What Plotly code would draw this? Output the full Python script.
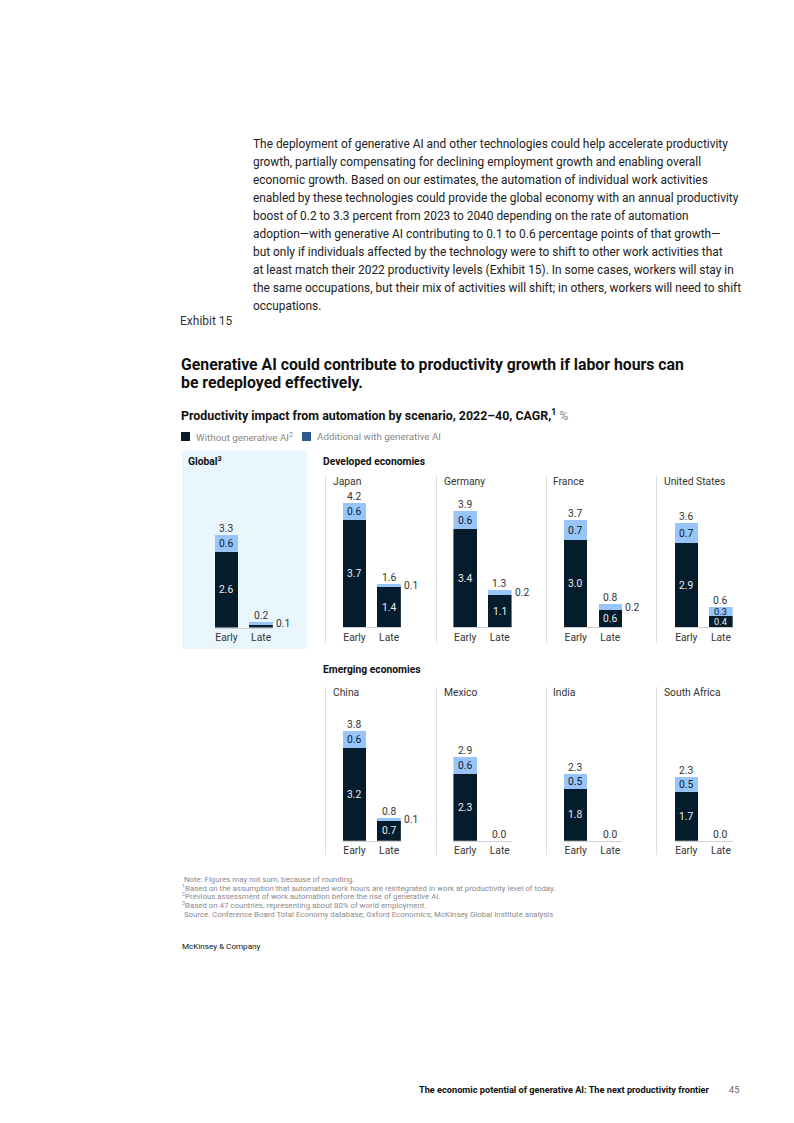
import plotly.graph_objects as go

# ---------------- data ----------------
panels = ["Global", "Japan", "Germany", "France", "United States",
          "China", "Mexico", "India", "South Africa"]
scenarios = ["Early", "Late"]
base_early = [2.6, 3.7, 3.4, 3.0, 2.9, 3.2, 2.3, 1.8, 1.7]
add_early = [0.6, 0.6, 0.6, 0.7, 0.7, 0.6, 0.6, 0.5, 0.5]
total_early = [3.3, 4.2, 3.9, 3.7, 3.6, 3.8, 2.9, 2.3, 2.3]
base_late = [0.1, 1.4, 1.1, 0.6, 0.4, 0.7, 0.0, 0.0, 0.0]
add_late = [0.1, 0.1, 0.2, 0.2, 0.3, 0.1, 0.0, 0.0, 0.0]
total_late = [0.2, 1.6, 1.3, 0.8, 0.6, 0.8, 0.0, 0.0, 0.0]

series_names = ["Without generative AI<sup>2</sup>", "Additional with generative AI"]

paragraph = [
    "The deployment of generative AI and other technologies could help accelerate productivity",
    "growth, partially compensating for declining employment growth and enabling overall",
    "economic growth. Based on our estimates, the automation of individual work activities",
    "enabled by these technologies could provide the global economy with an annual productivity",
    "boost of 0.2 to 3.3 percent from 2023 to 2040 depending on the rate of automation",
    "adoption\u2014with generative AI contributing to 0.1 to 0.6 percentage points of that growth\u2014",
    "but only if individuals affected by the technology were to shift to other work activities that",
    "at least match their 2022 productivity levels (Exhibit 15). In some cases, workers will stay in",
    "the same occupations, but their mix of activities will shift; in others, workers will need to shift",
    "occupations.",
]
footnotes = [
    " Note: Figures may not sum, because of rounding.",
    "<sup>1</sup>Based on the assumption that automated work hours are reintegrated in work at productivity level of today.",
    "<sup>2</sup>Previous assessment of work automation before the rise of generative AI.",
    "<sup>3</sup>Based on 47 countries, representing about 80% of world employment.",
    " Source: Conference Board Total Economy database; Oxford Economics; McKinsey Global Institute analysis",
]

# ---------------- styling ----------------
PAGE_W, PAGE_H = 794, 1123
OFF = 8                      # default page margin around the figure
W, H = PAGE_W - 2 * OFF, PAGE_H - 2 * OFF
FONT = "Roboto"
DARK = "#051c2c"
LIGHT = "#99c4f8"
LEG_BLUE = "#2f5a8e"
K = 29.0          # px per unit
R = 4.6           # y range
SP = 34.6         # px between bar centres


def px(x):
    return (x - OFF) / W


def py(y):
    return 1 - (y - OFF) / H


early_centres = [226.5, 354.5, 465.2, 575.7, 686.3, 354.5, 465.2, 575.7, 686.3]
baselines = [627.5, 627.3, 627.3, 627.3, 627.3, 840.8, 840.8, 840.8, 840.8]

fig = go.Figure()
layout = dict(width=W, height=H, margin=dict(l=0, r=0, t=0, b=0),
              paper_bgcolor="white", plot_bgcolor="rgba(0,0,0,0)",
              barmode="stack", bargap=0.32, showlegend=False,
              font=dict(family=FONT, color="#333"))
annotations = []
shapes = []

for i, name in enumerate(panels):
    n = "" if i == 0 else str(i + 1)
    xa, ya = "x" + n, "y" + n
    c = early_centres[i]
    left = c - 0.34 * SP
    right = c + SP + 0.34 * SP
    b = baselines[i]
    top = b - R * K
    layout["xaxis" + n] = dict(domain=[px(left), px(right)], range=[-0.34, 1.34],
                               tickvals=[0, 1], ticktext=scenarios, showgrid=False,
                               zeroline=False, showline=True, linecolor="#d0d0d0",
                               linewidth=1, ticks="", fixedrange=True,
                               tickfont=dict(family=FONT, size=10.3, color="#333"),
                               anchor=ya)
    layout["yaxis" + n] = dict(domain=[py(b), py(top)], range=[0, R], visible=False,
                               fixedrange=True, anchor=xa)
    bases = [base_early[i], base_late[i]]
    adds = [add_early[i], add_late[i]]
    tots = [total_early[i], total_late[i]]
    fig.add_trace(go.Bar(x=[0, 1], y=bases, marker=dict(color=DARK, line=dict(width=0)),
                         width=0.68, xaxis=xa, yaxis=ya, name=series_names[0],
                         hoverinfo="skip"))
    fig.add_trace(go.Bar(x=[0, 1], y=adds, marker=dict(color=LIGHT, line=dict(width=0)),
                         width=0.68, xaxis=xa, yaxis=ya, name=series_names[1],
                         hoverinfo="skip"))
    for j in range(2):
        bv, av, tv = bases[j], adds[j], tots[j]
        # total label
        annotations.append(dict(x=j, y=bv + av, xref=xa, yref=ya, text=f"{tv:.1f}",
                                showarrow=False, yanchor="bottom", yshift=-2,
                                font=dict(family=FONT, size=10.3, color="#333")))
        if bv >= 0.3:
            annotations.append(dict(x=j, y=bv / 2, xref=xa, yref=ya, text=f"{bv:.1f}",
                                    showarrow=False, yanchor="middle",
                                    font=dict(family=FONT, size=10.3 if bv >= 0.5 else 9.3,
                                              color="#e8ecef")))
        if av >= 0.3:
            annotations.append(dict(x=j, y=bv + av / 2, xref=xa, yref=ya, text=f"{av:.1f}",
                                    showarrow=False, yanchor="middle",
                                    font=dict(family=FONT, size=10.3 if av >= 0.5 else 9.3,
                                              color=DARK)))
        elif av > 0:
            annotations.append(dict(x=1.34 if j == 1 else 0.34, y=bv + av / 2, xref=xa, yref=ya,
                                    text=f"{av:.1f}", showarrow=False, xanchor="left",
                                    yanchor="middle", xshift=1,
                                    font=dict(family=FONT, size=10.3, color="#333")))

# global background
shapes.append(dict(type="rect", xref="paper", yref="paper", x0=px(182), x1=px(307),
                   y0=py(649), y1=py(450.5), fillcolor="#eaf6fd", line=dict(width=0),
                   layer="below"))
# separators
for xs in [325.5, 436.5, 546.5, 656.5]:
    shapes.append(dict(type="line", xref="paper", yref="paper", x0=px(xs), x1=px(xs),
                       y0=py(643), y1=py(476), line=dict(color="#dedede", width=1)))
    shapes.append(dict(type="line", xref="paper", yref="paper", x0=px(xs), x1=px(xs),
                       y0=py(855), y1=py(687), line=dict(color="#dedede", width=1)))

# panel titles
for i, name in enumerate(panels):
    if i == 0:
        annotations.append(dict(x=px(186), y=py(461), xref="paper", yref="paper",
                                text="<b>Global<sup>3</sup></b>", showarrow=False,
                                xanchor="left", yanchor="middle",
                                font=dict(family=FONT, size=10.3, color="#111")))
    else:
        k = (i - 1) % 4
        yy = 481 if i <= 4 else 692
        annotations.append(dict(x=px([331, 441.5, 551, 662][k]), y=py(yy), xref="paper",
                                yref="paper", text=name, showarrow=False, xanchor="left",
                                yanchor="middle", font=dict(family=FONT, size=10.3, color="#333")))

annotations.append(dict(x=px(321), y=py(461), xref="paper", yref="paper",
                        text="<b>Developed economies</b>", showarrow=False, xanchor="left",
                        yanchor="middle", font=dict(family=FONT, size=10.3, color="#111")))
annotations.append(dict(x=px(321), y=py(669), xref="paper", yref="paper",
                        text="<b>Emerging economies</b>", showarrow=False, xanchor="left",
                        yanchor="middle", font=dict(family=FONT, size=10.3, color="#111")))

# paragraph
for k, line in enumerate(paragraph):
    annotations.append(dict(x=px(251), y=py(144 + 18 * k), xref="paper", yref="paper",
                            text=line, showarrow=False, xanchor="left", yanchor="middle",
                            font=dict(family=FONT, size=11.9, color="#222")))

annotations.append(dict(x=px(178), y=py(321), xref="paper", yref="paper", text="Exhibit 15",
                        showarrow=False, xanchor="left", yanchor="middle",
                        font=dict(family=FONT, size=12, color="#333")))
for k, line in enumerate(["Generative AI could contribute to productivity growth if labor hours can",
                          "be redeployed effectively."]):
    annotations.append(dict(x=px(179), y=py(364 + 18 * k), xref="paper", yref="paper",
                            text=f"<b>{line}</b>", showarrow=False, xanchor="left",
                            yanchor="middle", font=dict(family=FONT, size=15.8, color="#111")))
annotations.append(dict(x=px(179), y=py(415), xref="paper", yref="paper",
                        text="<b>Productivity impact from automation by scenario, 2022\u201340, CAGR,<sup>1</sup></b> <span style='color:#888'>%</span>",
                        showarrow=False, xanchor="left", yanchor="middle",
                        font=dict(family=FONT, size=12.4, color="#111")))

# legend
for xs, col, txt, tx in [(181, DARK, series_names[0], 194), (302, LEG_BLUE, series_names[1], 315)]:
    shapes.append(dict(type="rect", xref="paper", yref="paper", x0=px(xs), x1=px(xs + 9),
                       y0=py(441), y1=py(432), fillcolor=col, line=dict(width=0)))
    annotations.append(dict(x=px(tx), y=py(436.5), xref="paper", yref="paper", text=txt,
                            showarrow=False, xanchor="left", yanchor="middle",
                            font=dict(family=FONT, size=9.8, color="#888")))

# footnotes
for k, line in enumerate(footnotes):
    annotations.append(dict(x=px(180), y=py([879, 887.5, 896, 905, 914][k]), xref="paper",
                            yref="paper", text=line, showarrow=False, xanchor="left",
                            yanchor="middle", font=dict(family=FONT, size=7.85, color="#8a8a8a")))
annotations.append(dict(x=px(180), y=py(946), xref="paper", yref="paper",
                        text="McKinsey & Company", showarrow=False, xanchor="left",
                        yanchor="middle", font=dict(family=FONT, size=8.1, color="#111")))
annotations.append(dict(x=px(712), y=py(1089), xref="paper", yref="paper",
                        text="<b>The economic potential of generative AI: The next productivity frontier</b>",
                        showarrow=False, xanchor="right", yanchor="middle",
                        font=dict(family=FONT, size=9.2, color="#111")))
annotations.append(dict(x=px(741), y=py(1089), xref="paper", yref="paper", text="45",
                        showarrow=False, xanchor="right", yanchor="middle",
                        font=dict(family=FONT, size=9.2, color="#666")))

layout["annotations"] = annotations
layout["shapes"] = shapes
fig.update_layout(**layout)
fig.write_html("out.html", config={"displayModeBar": False})
